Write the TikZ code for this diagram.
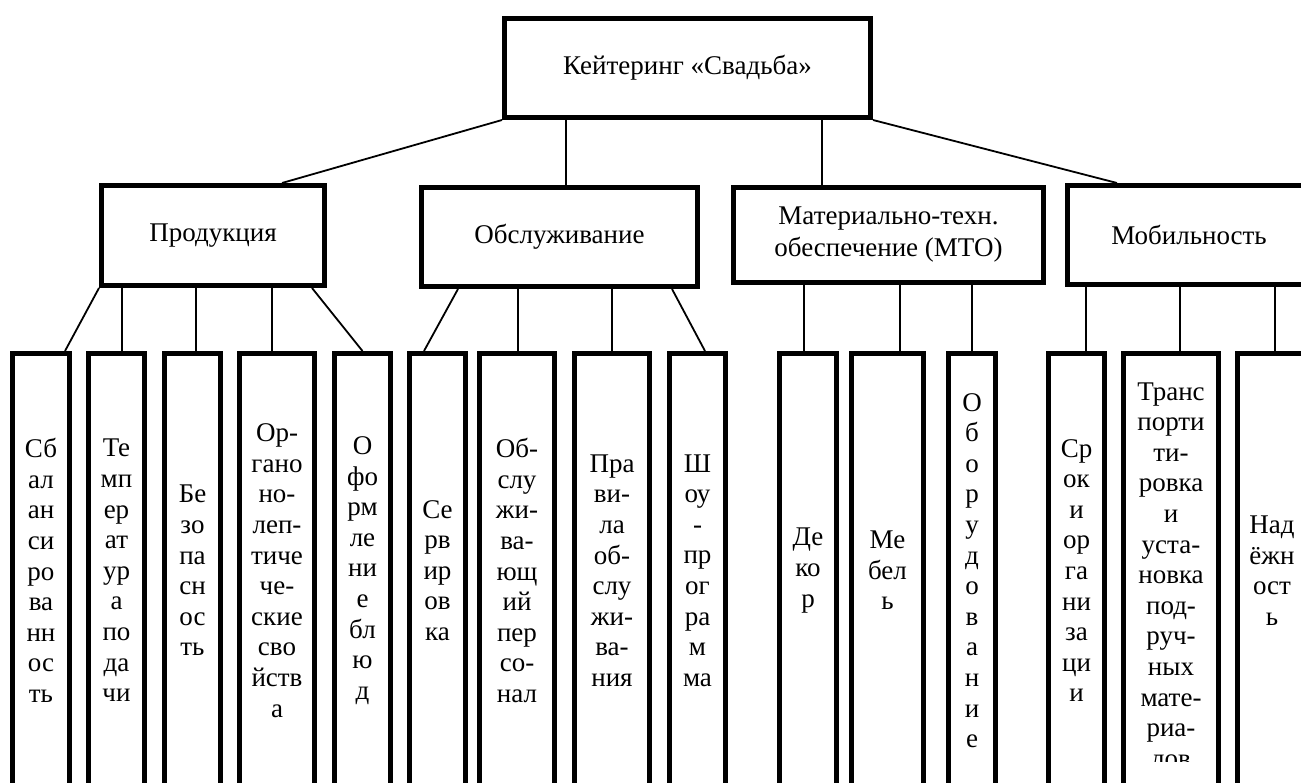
\documentclass[tikz,border=0pt]{standalone}
\usepackage{fontspec}
\setmainfont{Liberation Serif}
\newfontfamily\tnr{Liberation Serif}
\begin{document}
\begin{tikzpicture}[x=1pt,y=-1pt,
  box/.style={draw, line width=5pt, inner sep=0pt, align=center, font=\tnr\fontsize{27}{32}\selectfont},
  leaf/.style={box, minimum height=434pt, font=\tnr\fontsize{27}{30.6}\selectfont},
  leaftext/.style={inner sep=0pt, align=center, font=\tnr\fontsize{27}{30.6}\selectfont},
  conn/.style={line width=1.8pt}]
\useasboundingbox (0,0) rectangle (1301,782);
\clip (0,0) rectangle (1301,782);
% top level
\node[box, minimum width=366pt, minimum height=99pt] (top) at (687.5,68) {Кейтеринг «Свадьба»};
% second level
\node[box, minimum width=223pt, minimum height=100pt] (prod) at (213,235.5) {Продукция};
\node[box, minimum width=276pt, minimum height=99pt] (obs) at (559.5,237) {Обслуживание};
\node[box, minimum width=310pt, minimum height=95pt] (mto) at (888.5,235) {Материально-техн.\\обеспечение (МТО)};
\node[box, minimum width=243pt, minimum height=99pt] (mob) at (1189,235) {Мобильность};
% leaves
\node[leaf, minimum width=57pt] (l1) at (41,570.5) {Сб\\ал\\ан\\си\\ро\\ва\\нн\\ос\\ть};
\node[leaf, minimum width=56pt] (l2) at (116.5,570.5) {Те\\мп\\ер\\ат\\ур\\а\\по\\да\\чи};
\node[leaf, minimum width=56pt] (l3) at (192.5,570.5) {Бе\\зо\\па\\сн\\ос\\ть};
\node[leaf, minimum width=75pt] (l4) at (277,570.5) {Ор-\\гано\\но-\\леп-\\тиче\\че-\\ские\\сво\\йств\\а};
\node[leaf, minimum width=56pt] (l5) at (362.5,570.5) {О\\фо\\рм\\ле\\ни\\е\\бл\\ю\\д};
\node[leaf, minimum width=56pt] (l6) at (437.5,570.5) {Се\\рв\\ир\\ов\\ка};
\node[leaf, minimum width=75pt] (l7) at (517,570.5) {Об-\\слу\\жи-\\ва-\\ющ\\ий\\пер\\со-\\нал};
\node[leaf, minimum width=75pt] (l8) at (612,570.5) {Пра\\ви-\\ла\\об-\\слу\\жи-\\ва-\\ния};
\node[leaf, minimum width=56pt] (l9) at (697.5,570.5) {Ш\\оу\\-\\пр\\ог\\ра\\м\\ма};
\node[leaf, minimum width=57pt] (l10) at (808,570.5) {Де\\ко\\р};
\node[leaf, minimum width=72pt] (l11) at (887.5,570.5) {Ме\\бел\\ь};
\node[leaf, minimum width=47pt] (l12) at (972,570.5) {О\\б\\о\\р\\у\\д\\о\\в\\а\\н\\и\\е};
\node[leaf, minimum width=56pt] (l13) at (1076.5,570.5) {Ср\\ок\\и\\ор\\га\\ни\\за\\ци\\и};
\node[leaf, minimum width=95pt] (l14) at (1171,570.5) {};
\begin{scope}
\clip (1121,350) rectangle (1221,761);
\node[leaftext] (l14t) at (1171,575) {Транс\\порти\\ти-\\ровка\\и\\уста-\\новка\\под-\\руч-\\ных\\мате-\\риа-\\лов};
\end{scope}
\node[leaf, minimum width=69pt] (l15) at (1272,570.5) {Над\\ёжн\\ост\\ь};
% connectors: top -> second level
\draw[conn] (top.south west) -- ([xshift=69pt]prod.north);
\draw[conn] ([xshift=6.5pt]obs.north) -- ([xshift=6.5pt]obs.north |- top.south);
\draw[conn] ([xshift=-66.5pt]mto.north) -- ([xshift=-66.5pt]mto.north |- top.south);
\draw[conn] (top.south east) -- ([xshift=-72pt]mob.north);
% Продукция
\draw[conn] (prod.south west) -- ([xshift=24pt]l1.north);
\draw[conn] ([xshift=5.5pt]l2.north) -- ([xshift=5.5pt]l2.north |- prod.south);
\draw[conn] ([xshift=3.5pt]l3.north) -- ([xshift=3.5pt]l3.north |- prod.south);
\draw[conn] ([xshift=-5pt]l4.north) -- ([xshift=-5pt]l4.north |- prod.south);
\draw[conn] ([xshift=-15pt]prod.south east) -- (l5.north);
% Обслуживание
\draw[conn] ([xshift=39pt]obs.south west) -- ([xshift=-13.5pt]l6.north);
\draw[conn] ([xshift=1pt]l7.north) -- ([xshift=1pt]l7.north |- obs.south);
\draw[conn] (l8.north) -- (l8.north |- obs.south);
\draw[conn] ([xshift=-28pt]obs.south east) -- ([xshift=7.5pt]l9.north);
% МТО
\draw[conn] ([xshift=-4pt]l10.north) -- ([xshift=-4pt]l10.north |- mto.south);
\draw[conn] ([xshift=12.5pt]l11.north) -- ([xshift=12.5pt]l11.north |- mto.south);
\draw[conn] (l12.north) -- (l12.north |- mto.south);
% Мобильность
\draw[conn] ([xshift=9.5pt]l13.north) -- ([xshift=9.5pt]l13.north |- mob.south);
\draw[conn] ([xshift=9pt]l14.north) -- ([xshift=9pt]l14.north |- mob.south);
\draw[conn] ([xshift=3pt]l15.north) -- ([xshift=3pt]l15.north |- mob.south);
\end{tikzpicture}
\end{document}
